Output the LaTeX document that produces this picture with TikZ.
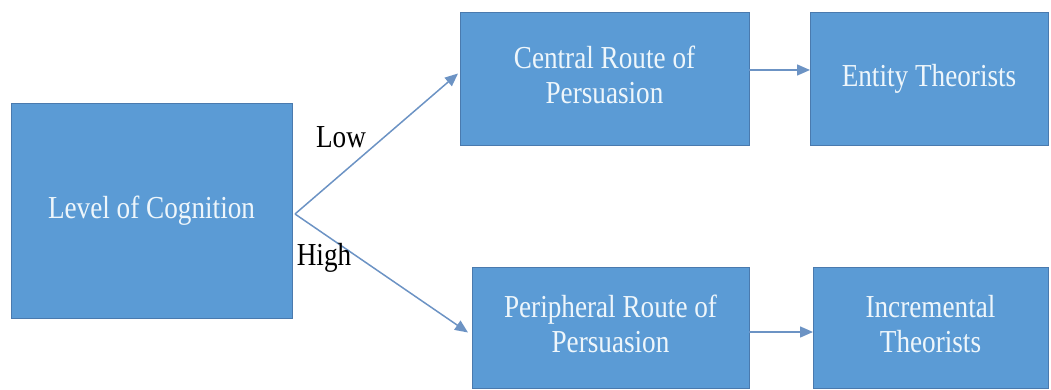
\documentclass[tikz,border=0pt]{standalone}
\usepackage{fontspec}
\setmainfont{Liberation Serif}
\usetikzlibrary{arrows.meta}
\definecolor{boxfill}{HTML}{5B9BD5}
\definecolor{boxline}{HTML}{4A7AAE}
\definecolor{boxtext}{HTML}{EEF6FB}
\definecolor{arrowcol}{HTML}{6C93C4}
\newcommand{\sqtext}[1]{\scalebox{0.85}[1]{\begin{tabular}{@{}c@{}}#1\end{tabular}}}
\tikzset{
  flowbox/.style={draw=boxline, line width=1pt, fill=boxfill, text=boxtext,
    inner sep=0pt, outer sep=0pt,
    font=\fontsize{32}{35}\selectfont},
  flowarrow/.style={draw=arrowcol, line width=1.5pt,
    -{Triangle[length=13pt,width=11pt]}},
  edgelabel/.style={text=black, inner sep=0pt, font=\fontsize{32}{35}\selectfont}
}
\begin{document}
\begin{tikzpicture}[x=1pt,y=-1pt]
\useasboundingbox (0,0) rectangle (1051,390);
\node[flowbox, minimum width=281pt, minimum height=214pt] (lev) at (151.5,211)
  {\sqtext{Level of Cognition}};
\node[flowbox, minimum width=289pt, minimum height=133pt] (cen) at (604.5,79.5)
  {\sqtext{Central Route of\\Persuasion}};
\node[flowbox, minimum width=238pt, minimum height=133pt] (ent) at (929,79.5)
  {\sqtext{Entity Theorists}};
\node[flowbox, minimum width=277pt, minimum height=121pt] (per) at (610.5,327.5)
  {\sqtext{Peripheral Route of\\Persuasion}};
\node[flowbox, minimum width=235pt, minimum height=121pt] (inc) at (930.5,327.5)
  {\sqtext{Incremental\\Theorists}};
\coordinate (apex) at (295,214);
\draw[flowarrow] (apex) -- ([xshift=-2pt,yshift=6pt]cen.west);
\draw[flowarrow] (apex) -- ([xshift=-4pt,yshift=-5pt]per.west);
\draw[flowarrow] ([yshift=9.5pt]cen.east) -- ([yshift=9.5pt]ent.west);
\draw[flowarrow] ([yshift=-4.5pt]per.east) -- ([yshift=-4.5pt]inc.west);
\node[edgelabel] (low) at (341,137) {\scalebox{0.85}[1]{Low}};
\node[edgelabel] (high) at (324,258) {\scalebox{0.85}[1]{High}};
\end{tikzpicture}
\end{document}
